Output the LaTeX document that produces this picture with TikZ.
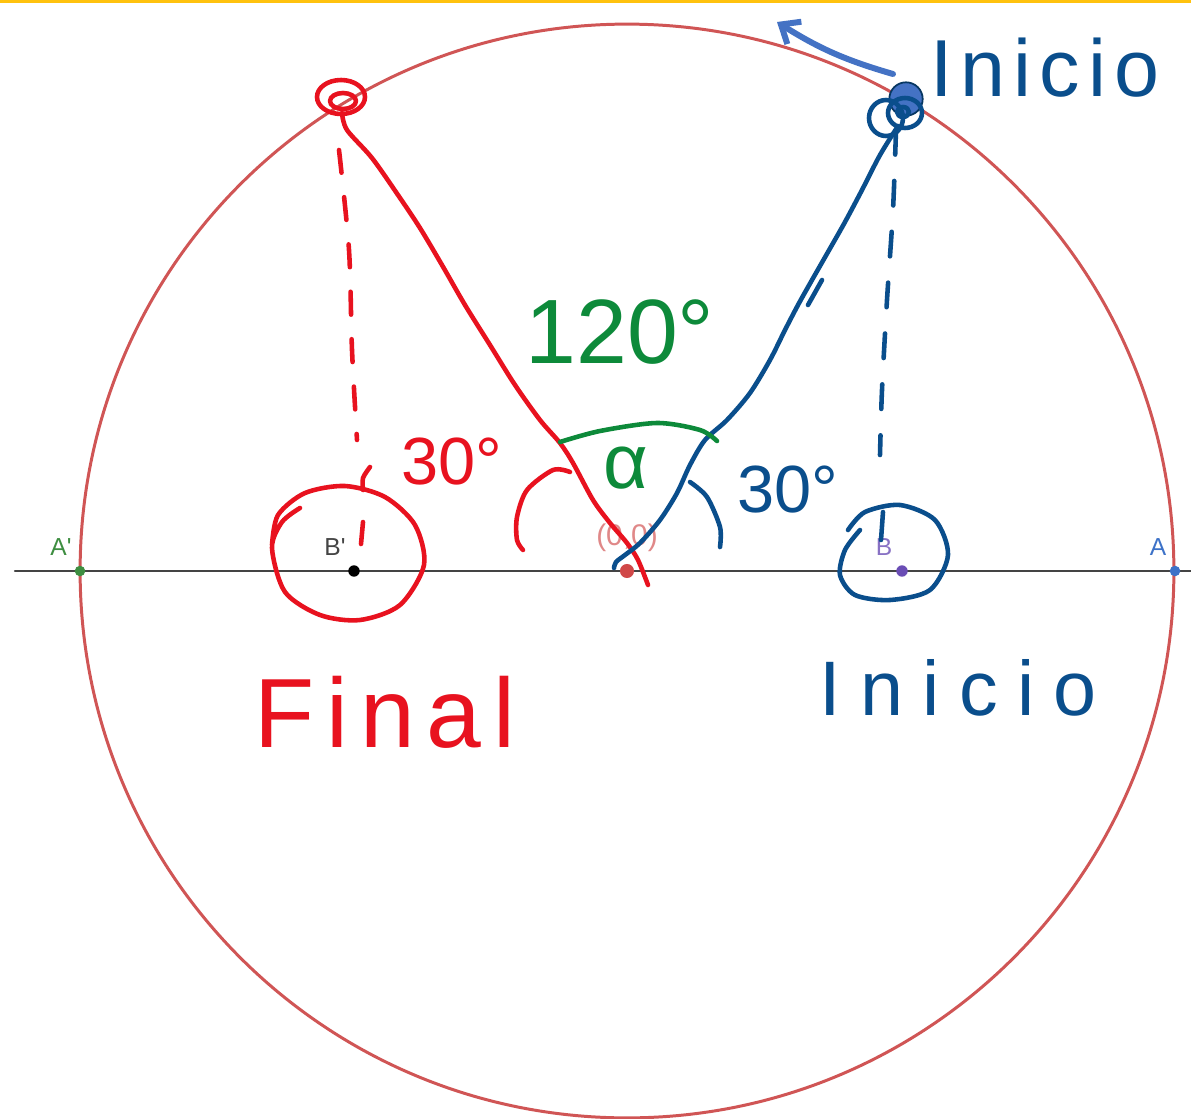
\documentclass[tikz,border=0pt]{standalone}
\usepackage{fontspec}
\setmainfont{Liberation Sans}
\usetikzlibrary{arrows.meta}
\definecolor{GGGold}{HTML}{FFC20E}
\definecolor{GGCircle}{HTML}{D05555}
\definecolor{GGAxis}{HTML}{444444}
\definecolor{GGGreen}{HTML}{3E8E41}
\definecolor{GGPurple}{HTML}{6A4DB5}
\definecolor{GGBlue}{HTML}{3D72C8}
\definecolor{GGOrigin}{HTML}{D04848}
\definecolor{InkRed}{HTML}{E8121F}
\definecolor{InkBlue}{HTML}{0A4E8C}
\definecolor{InkGreen}{HTML}{0D8A3A}
\definecolor{InkArrow}{HTML}{4472C4}

\begin{document}
\begin{tikzpicture}[x=0.02cm,y=-0.02cm,line cap=round,line join=round,
  ink/.style={line width=2.6pt},
  gpt/.style={circle,inner sep=0pt,minimum size=#1},
  glbl/.style={font=\fontsize{14}{16}\selectfont},
  hand/.style={font=\fontsize{#1}{#1}\selectfont}]
  \useasboundingbox (0,0) rectangle (1191,1119);
  \fill[white] (0,0) rectangle (1191,1119);
  \fill[GGGold] (0,0) rectangle (1191,3);

  % construction
  \coordinate (west) at (15,571);
  \coordinate (east) at (1191,571);
  \draw[GGAxis,line width=1.2pt] (west) -- (east);
  \coordinate (orig) at (627,571);
  \draw[GGCircle,line width=1.7pt] (orig) circle [radius=10.94cm];
  \node[gpt=6pt,fill=GGGreen] (Ap) at (80,571) {};
  \node[gpt=6.5pt,fill=black] (Bp) at (354,571) {};
  \node[gpt=8pt,fill=GGOrigin] (O) at (627,571) {};
  \node[gpt=6.5pt,fill=GGPurple] (B) at (902,571) {};
  \node[gpt=6pt,fill=GGBlue] (A) at (1175,571) {};
  \node[glbl,text=GGGreen] (Aplbl) at (61,547) {A\textquotesingle};
  \node[glbl,text=GGAxis] (Bplbl) at (335,547) {B\textquotesingle};
  \node[glbl,text=GGPurple!80] (Blbl) at (884,547) {B};
  \node[glbl,text=GGBlue] (Albl) at (1158,547) {A};
  \node[font=\fontsize{17}{19}\selectfont,text=GGOrigin!65] (Olbl) at (627,538) {(0,0)};

  % start point and direction of turn
  \node[gpt=19pt,fill=InkArrow,draw=InkBlue!70!black,line width=1pt] (ini) at (906,99) {};
  \coordinate (arrtail) at (893,74);
  \coordinate (arrtip) at (777,22);
  \draw[InkArrow,line width=3.4pt,-{Straight Barb[length=9pt,width=15pt]}]
    (arrtail) to[bend left=8] (arrtip);

  % red: final position
  \draw[InkRed,ink] (341,97) ellipse [x radius=0.48cm,y radius=0.34cm];
  \draw[InkRed,ink] (343,101) ellipse [x radius=0.26cm,y radius=0.16cm];
  \draw[InkRed,ink] plot[smooth] coordinates {(342,113) (347,130) (372,158)
    (398,195) (420,228) (442,265) (465,305) (490,345) (515,385) (540,420)
    (560,443) (573,463) (593,500) (610,523) (627,543) (638,560) (648,585)};
  \draw[InkRed,ink,dash pattern=on 13pt off 14pt] plot[smooth] coordinates
    {(339,150) (349,250) (352,350) (357,440)};
  \draw[InkRed,ink] (363,522) -- (361,544);
  \draw[InkRed,ink] plot[smooth] coordinates {(370,467) (363,478) (363,490)};
  \draw[InkRed,ink] plot[smooth] coordinates {(300,508) (282,522) (272,548)
    (285,592) (320,615) (360,620) (400,605) (424,565) (415,525) (385,497)
    (345,486) (305,493) (278,515) (272,545)};
  \draw[InkRed,ink] plot[smooth] coordinates {(570,472) (553,470) (527,490)
    (517,517) (517,540) (523,550)};
  \node[hand=38,text=InkRed] (redang) at (452,462) {30°};
  \node[hand=56,text=InkRed] (finlbl) at (385,712) {\addfontfeature{LetterSpace=12}Final};

  % blue: start position
  \draw[InkBlue,ink] (886,118) ellipse [x radius=0.34cm,y radius=0.36cm];
  \draw[InkBlue,ink] (905,113) ellipse [x radius=0.34cm,y radius=0.3cm];
  \draw[InkBlue,ink] (903,112) ellipse [x radius=0.12cm,y radius=0.1cm];
  \draw[InkBlue,ink] plot[smooth] coordinates {(898,126) (880,155) (862,190)
    (845,222) (828,252) (812,280) (798,305) (785,330) (770,360) (750,393)
    (727,420) (705,440) (690,465) (677,493) (660,520) (640,543) (625,555)
    (616,562) (614,568)};
  \draw[InkBlue,ink] (822,280) -- (808,305);
  \draw[InkBlue,ink,dash pattern=on 14pt off 15pt] plot[smooth] coordinates
    {(896,130) (893,210) (887,300) (882,390) (880,455)};
  \draw[InkBlue,ink] (883,512) -- (881,540);
  \draw[InkBlue,ink] plot[smooth] coordinates {(860,530) (845,550) (840,575)
    (855,595) (890,600) (930,590) (948,555) (935,520) (900,505) (865,512)
    (848,530)};
  \draw[InkBlue,ink] plot[smooth] coordinates {(690,482) (707,497) (720,527)
    (720,547)};
  \node[hand=38,text=InkBlue] (blueang) at (788,490) {30°};
  \node[hand=46,text=InkBlue,anchor=west,inner sep=0pt] (inilbl) at (930,68) {\addfontfeature{LetterSpace=10}Inicio};
  \node[hand=44,text=InkBlue] (inilbl2) at (958,688) {\addfontfeature{LetterSpace=25}Inicio};

  % green: angle between
  \draw[InkGreen,ink] plot[smooth] coordinates {(560,442) (600,431) (657,423)
    (700,430) (717,441)};
  \node[hand=44,text=InkGreen] (alpha) at (626,468) {α};
  \node[hand=52,text=InkGreen] (angle) at (620,332) {120°};
\end{tikzpicture}
\end{document}
